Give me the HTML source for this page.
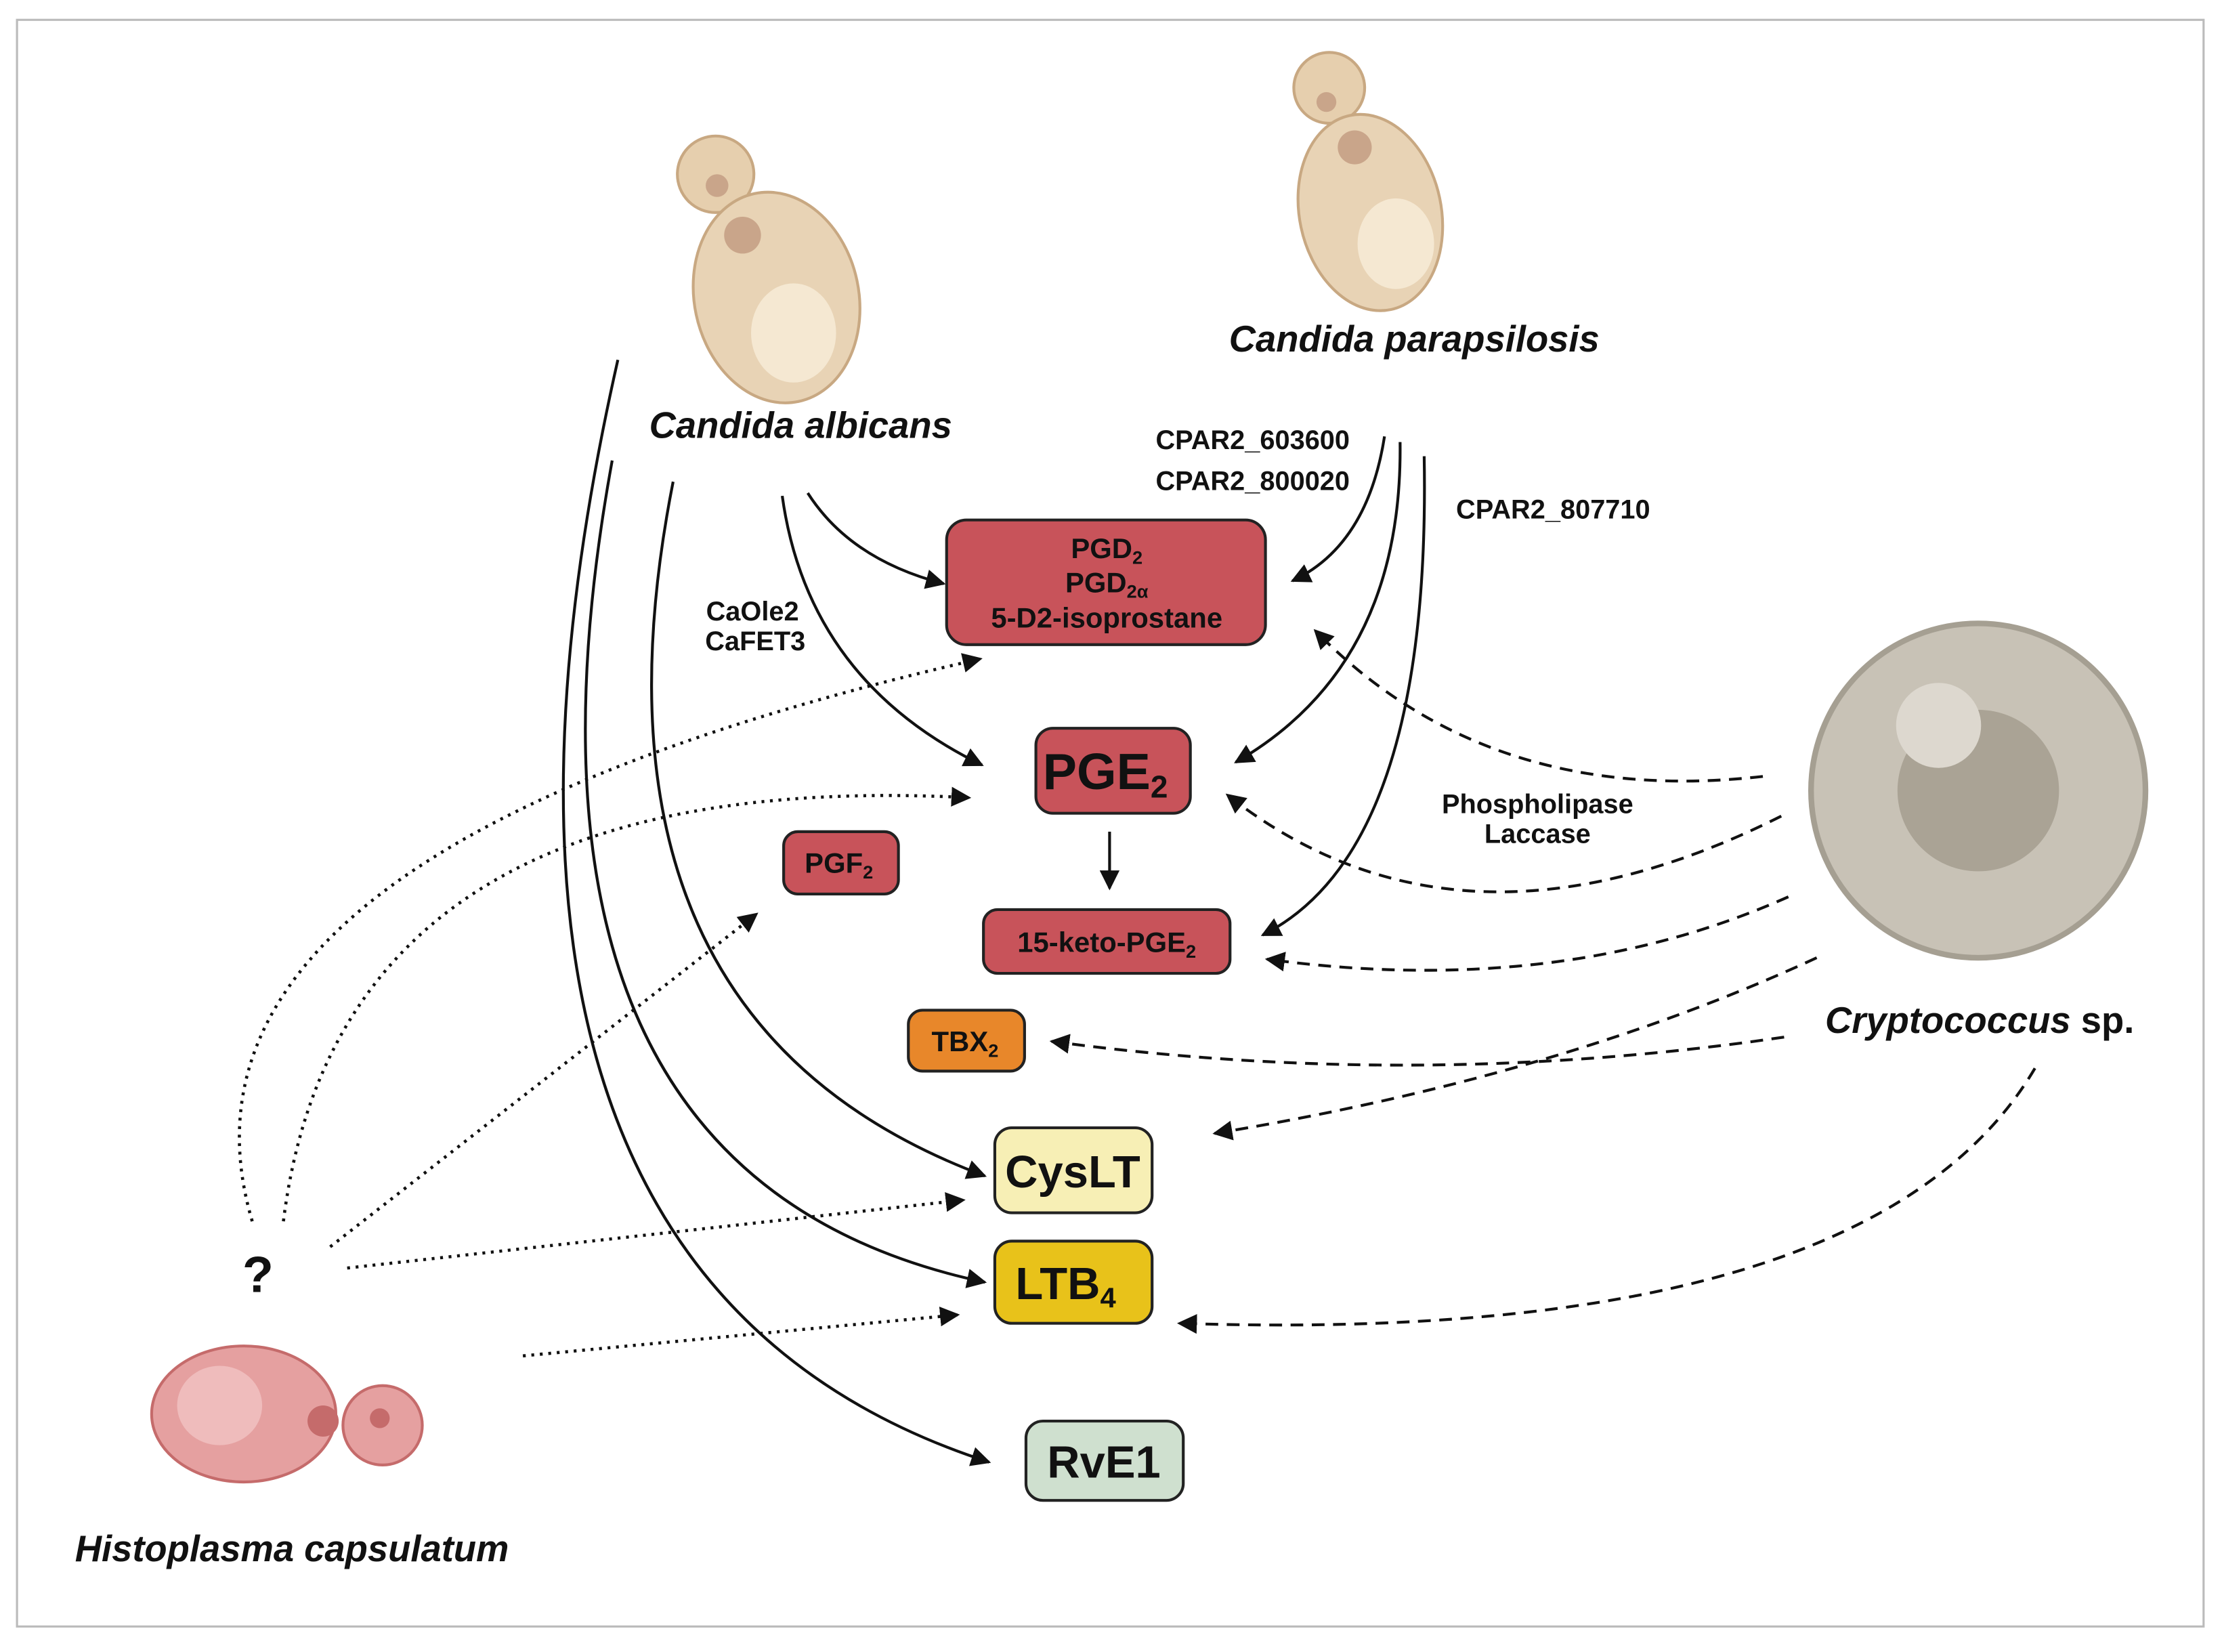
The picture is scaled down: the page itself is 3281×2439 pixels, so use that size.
<!DOCTYPE html>
<html><head><meta charset="utf-8"><style>
html,body{margin:0;padding:0;background:#fff;}
svg{display:block;}
text{font-family:"Liberation Sans",sans-serif;font-weight:bold;fill:#111;}
</style></head><body>
<svg width="3281" height="2439" viewBox="0 0 1568 1166" preserveAspectRatio="none" xmlns="http://www.w3.org/2000/svg">
<defs>
<marker id="a" viewBox="0 0 10 10" refX="9" refY="5" markerWidth="7" markerHeight="7" orient="auto" markerUnits="userSpaceOnUse"><path d="M0,0 L10,5 L0,10 z" fill="#111"/></marker>
<marker id="b" viewBox="0 0 10 10" refX="9" refY="5" markerWidth="14" markerHeight="14" orient="auto" markerUnits="userSpaceOnUse"><path d="M0,0 L10,5 L0,10 z" fill="#111"/></marker>
</defs>
<rect x="0" y="0" width="1568" height="1166" fill="#fff"/>
<rect x="12" y="14" width="1543" height="1134" fill="none" stroke="#bbb" stroke-width="1.5"/>

<!-- Candida albicans -->
<circle cx="505" cy="123" r="27" fill="#e6cfae" stroke="#c8a882" stroke-width="2"/>
<circle cx="506" cy="131" r="8" fill="#c9a58a"/>
<ellipse cx="548" cy="210" rx="58" ry="75" transform="rotate(-12 548 210)" fill="#e8d3b5" stroke="#c8a882" stroke-width="2"/>
<circle cx="524" cy="166" r="13" fill="#c9a58a"/>
<ellipse cx="560" cy="235" rx="30" ry="35" fill="#f5e8d2"/>
<text x="565" y="309" font-size="26" font-style="italic" text-anchor="middle">Candida albicans</text>

<!-- Candida parapsilosis -->
<circle cx="938" cy="62" r="25" fill="#e6cfae" stroke="#c8a882" stroke-width="2"/>
<circle cx="936" cy="72" r="7" fill="#c9a58a"/>
<ellipse cx="967" cy="150" rx="50" ry="70" transform="rotate(-12 967 150)" fill="#e8d3b5" stroke="#c8a882" stroke-width="2"/>
<circle cx="956" cy="104" r="12" fill="#c9a58a"/>
<ellipse cx="985" cy="172" rx="27" ry="32" fill="#f5e8d2"/>
<text x="998" y="248" font-size="26" font-style="italic" text-anchor="middle">Candida parapsilosis</text>

<!-- Cryptococcus -->
<circle cx="1396" cy="558" r="118" fill="#c8c2b6" stroke="#a59f92" stroke-width="4"/>
<circle cx="1396" cy="558" r="57" fill="#aaa395"/>
<circle cx="1368" cy="512" r="30" fill="#ddd8cf"/>
<text x="1397" y="729" font-size="26" text-anchor="middle"><tspan font-style="italic">Cryptococcus</tspan> sp.</text>

<!-- Histoplasma -->
<ellipse cx="172" cy="998" rx="65" ry="48" fill="#e5a0a0" stroke="#c56b6b" stroke-width="2"/>
<ellipse cx="155" cy="992" rx="30" ry="28" fill="#efbcbc"/>
<circle cx="228" cy="1003" r="11" fill="#c56b6b"/>
<circle cx="270" cy="1006" r="28" fill="#e5a0a0" stroke="#c56b6b" stroke-width="2"/>
<circle cx="268" cy="1001" r="7" fill="#c56b6b"/>
<text x="206" y="1102" font-size="26" font-style="italic" text-anchor="middle">Histoplasma capsulatum</text>
<text x="182" y="912" font-size="36" font-weight="normal" text-anchor="middle">?</text>

<!-- Boxes -->
<rect x="668" y="367" width="225" height="88" rx="14" fill="#c8535a" stroke="#222" stroke-width="2"/>
<text x="781" y="394" font-size="20" text-anchor="middle">PGD<tspan font-size="13" dy="4">2</tspan></text>
<text x="781" y="418" font-size="20" text-anchor="middle">PGD<tspan font-size="13" dy="4">2α</tspan></text>
<text x="781" y="443" font-size="20" text-anchor="middle">5-D2-isoprostane</text>

<rect x="731" y="514" width="109" height="60" rx="12" fill="#c8535a" stroke="#222" stroke-width="2"/>
<text x="780" y="557" font-size="36" text-anchor="middle">PGE<tspan font-size="22" dy="6">2</tspan></text>

<rect x="553" y="587" width="81" height="44" rx="10" fill="#c8535a" stroke="#222" stroke-width="2"/>
<text x="592" y="616" font-size="20" text-anchor="middle">PGF<tspan font-size="13" dy="4">2</tspan></text>

<rect x="694" y="642" width="174" height="45" rx="10" fill="#c8535a" stroke="#222" stroke-width="2"/>
<text x="781" y="672" font-size="20" text-anchor="middle">15-keto-PGE<tspan font-size="13" dy="4">2</tspan></text>

<rect x="641" y="713" width="82" height="43" rx="10" fill="#e8872a" stroke="#222" stroke-width="2"/>
<text x="681" y="742" font-size="20" text-anchor="middle">TBX<tspan font-size="13" dy="4">2</tspan></text>

<rect x="702" y="796" width="111" height="60" rx="12" fill="#f7efb5" stroke="#222" stroke-width="2"/>
<text x="757" y="838" font-size="32" text-anchor="middle">CysLT</text>

<rect x="702" y="876" width="111" height="58" rx="12" fill="#e8c21a" stroke="#222" stroke-width="2"/>
<text x="752" y="917" font-size="32" text-anchor="middle">LTB<tspan font-size="20" dy="6">4</tspan></text>

<rect x="724" y="1003" width="111" height="56" rx="12" fill="#cfe0cf" stroke="#222" stroke-width="2"/>
<text x="779" y="1043" font-size="32" text-anchor="middle">RvE1</text>

<!-- labels -->
<g font-size="19">
<text x="884" y="317" text-anchor="middle">CPAR2_603600</text>
<text x="884" y="346" text-anchor="middle">CPAR2_800020</text>
<text x="1096" y="366" text-anchor="middle">CPAR2_807710</text>
<text x="531" y="438" text-anchor="middle">CaOle2</text>
<text x="533" y="459" text-anchor="middle">CaFET3</text>
<text x="1085" y="574" text-anchor="middle">Phospholipase</text>
<text x="1085" y="595" text-anchor="middle">Laccase</text>
</g>

<!-- solid arrows -->
<g fill="none" stroke="#111" stroke-width="2" marker-end="url(#b)">
<path d="M570,348 Q600,395 666,412"/>
<path d="M552,350 Q570,480 693,540"/>
<path d="M475,340 Q400,720 695,830"/>
<path d="M432,325 Q340,830 695,905"/>
<path d="M436,254 Q290,900 698,1032"/>
<path d="M977,308 Q965,385 912,410"/>
<path d="M988,312 Q990,470 872,538"/>
<path d="M1005,322 Q1010,600 891,660"/>
<path d="M783,587 L783,627"/>
</g>

<!-- dashed -->
<g fill="none" stroke="#111" stroke-width="2" stroke-dasharray="9,6" marker-end="url(#b)">
<path d="M1244,548 Q1050,570 928,445"/>
<path d="M1257,576 Q1030,690 866,561"/>
<path d="M1262,633 Q1100,705 894,677"/>
<path d="M1259,732 Q1000,770 742,735"/>
<path d="M1282,676 Q1100,760 857,800"/>
<path d="M1436,754 Q1320,950 832,934"/>
</g>

<!-- dotted -->
<g fill="none" stroke="#111" stroke-width="2.2" stroke-dasharray="2,4" marker-end="url(#b)">
<path d="M178,862 Q100,600 692,465"/>
<path d="M200,862 Q240,540 684,563"/>
<path d="M233,880 L534,645"/>
<path d="M245,895 L680,847"/>
<path d="M369,957 L676,928"/>
</g>
</svg>
</body></html>
